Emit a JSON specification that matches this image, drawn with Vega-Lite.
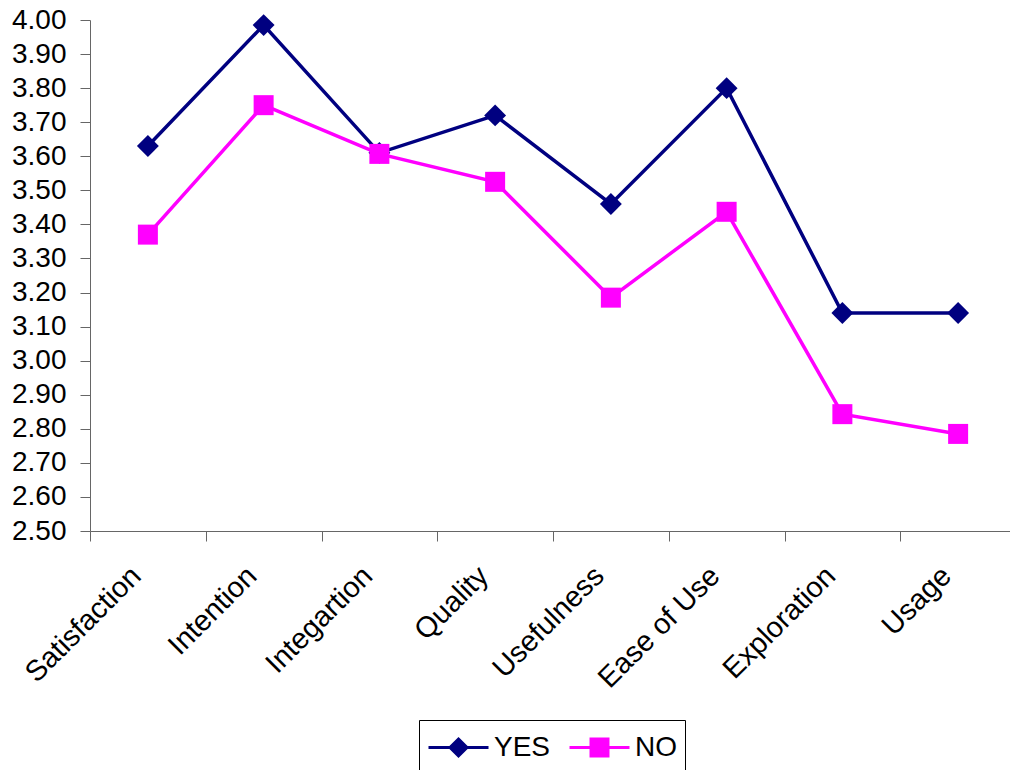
{
  "$schema": "https://vega.github.io/schema/vega-lite/v6.json",
  "autosize": {"type": "none"},
  "padding": {"left": 90, "top": 20, "right": 0, "bottom": 239},
  "width": 926,
  "height": 511,
  "background": "white",
  "config": {
    "view": {"stroke": null},
    "font": "Liberation Sans"
  },
  "data": {
    "values": [
      {"measure": "Satisfaction", "group": "YES", "value": 3.63},
      {"measure": "Intention", "group": "YES", "value": 3.985},
      {"measure": "Integartion", "group": "YES", "value": 3.61},
      {"measure": "Quality", "group": "YES", "value": 3.72},
      {"measure": "Usefulness", "group": "YES", "value": 3.46},
      {"measure": "Ease of Use", "group": "YES", "value": 3.80},
      {"measure": "Exploration", "group": "YES", "value": 3.14},
      {"measure": "Usage", "group": "YES", "value": 3.14},
      {"measure": "Satisfaction", "group": "NO", "value": 3.37},
      {"measure": "Intention", "group": "NO", "value": 3.75},
      {"measure": "Integartion", "group": "NO", "value": 3.607},
      {"measure": "Quality", "group": "NO", "value": 3.525},
      {"measure": "Usefulness", "group": "NO", "value": 3.185},
      {"measure": "Ease of Use", "group": "NO", "value": 3.437},
      {"measure": "Exploration", "group": "NO", "value": 2.843},
      {"measure": "Usage", "group": "NO", "value": 2.785}
    ]
  },
  "encoding": {
    "x": {
      "field": "measure",
      "type": "nominal",
      "sort": ["Satisfaction", "Intention", "Integartion", "Quality", "Usefulness", "Ease of Use", "Exploration", "Usage"],
      "scale": {"type": "band", "paddingInner": 0, "paddingOuter": 0},
      "axis": {
        "title": null,
        "tickBand": "extent",
        "tickSize": 10,
        "tickColor": "#666666",
        "domainColor": "#666666",
        "labelAngle": -45,
        "labelAlign": "right",
        "labelBaseline": "top",
        "labelFont": "Liberation Sans",
        "labelFontSize": 29,
        "labelColor": "black",
        "labelPadding": 20,
        "labelOffset": -22,
        "grid": false
      }
    },
    "y": {
      "field": "value",
      "type": "quantitative",
      "scale": {"domain": [2.5, 4.0], "nice": false, "zero": false},
      "axis": {
        "title": null,
        "values": [2.5, 2.6, 2.7, 2.8, 2.9, 3.0, 3.1, 3.2, 3.3, 3.4, 3.5, 3.6, 3.7, 3.8, 3.9, 4.0],
        "format": ".2f",
        "tickSize": 10,
        "tickColor": "#666666",
        "domainColor": "#666666",
        "labelFont": "Liberation Sans",
        "labelFontSize": 28,
        "labelColor": "black",
        "labelPadding": 14,
        "grid": false
      }
    },
    "color": {
      "field": "group",
      "type": "nominal",
      "scale": {"domain": ["YES", "NO"], "range": ["#000080", "#FF00FF"]},
      "legend": {
        "title": null,
        "orient": "none",
        "legendX": 329,
        "legendY": 700,
        "direction": "horizontal",
        "strokeColor": "black",
        "padding": 8,
        "symbolSize": 3600,
        "symbolStrokeWidth": 3,
        "labelFont": "Liberation Sans",
        "labelFontSize": 28,
        "labelColor": "black",
        "labelOffset": 4,
        "columnPadding": 12,
        "encode": {
          "symbols": {
            "update": {
              "shape": {"signal": "datum.value === 'YES' ? 'M-1,-0.4L1,-0.4M0,-0.683L0.283,-0.4L0,-0.117L-0.283,-0.4Z' : 'M-1,-0.4L1,-0.4M-0.283,-0.683L0.283,-0.683L0.283,-0.117L-0.283,-0.117Z'"},
              "fill": {"signal": "datum.value === 'YES' ? '#000080' : '#FF00FF'"},
              "stroke": {"signal": "datum.value === 'YES' ? '#000080' : '#FF00FF'"},
              "strokeWidth": {"value": 3},
              "size": {"value": 3600},
              "opacity": {"value": 1},
              "fillOpacity": {"value": 1},
              "strokeOpacity": {"value": 1}
            }
          },
          "labels": {
            "update": {"dy": {"value": -12}}
          }
        }
      }
    }
  },
  "layer": [
    {
      "mark": {"type": "line", "strokeWidth": 3.5}
    },
    {
      "transform": [{"filter": "datum.group === 'YES'"}],
      "mark": {"type": "point", "shape": "diamond", "size": 480, "filled": true, "opacity": 1, "strokeWidth": 0}
    },
    {
      "transform": [{"filter": "datum.group === 'NO'"}],
      "mark": {"type": "point", "shape": "square", "size": 400, "filled": true, "opacity": 1, "strokeWidth": 0}
    }
  ]
}
